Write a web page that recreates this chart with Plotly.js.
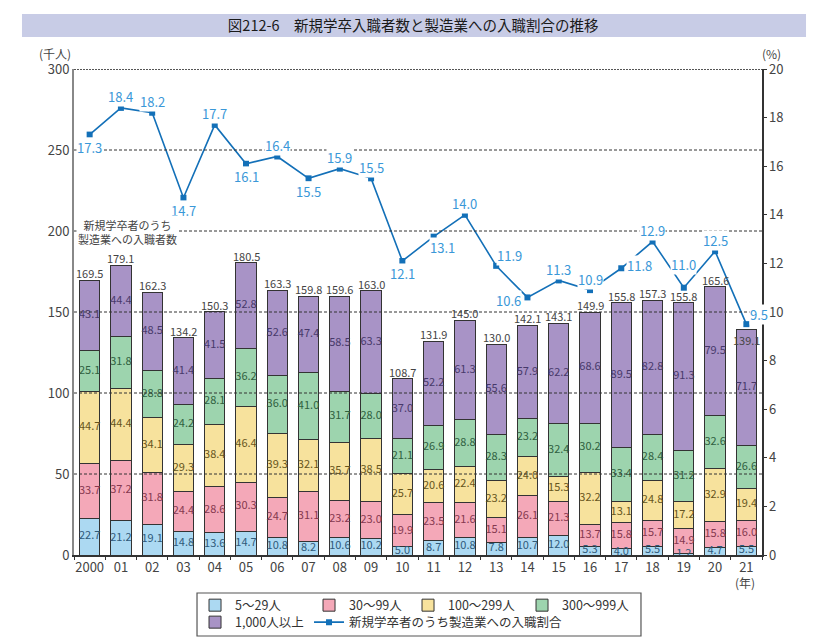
<!DOCTYPE html>
<html>
<head>
<meta charset="utf-8">
<script src="https://cdn.plot.ly/plotly-3.0.1.min.js"></script>
<style>html,body{margin:0;padding:0;background:#fff;}#chart{width:815px;height:642px;}</style>
</head>
<body>
<div id="chart"></div>
<script>
// ---- data ----
const years = ['2000','01','02','03','04','05','06','07','08','09','10','11','12','13','14','15','16','17','18','19','20','21'];
const s5_29   = [22.7,21.2,19.1,14.8,13.6,14.7,10.8,8.2,10.6,10.2,5.0,8.7,10.8,7.8,10.7,12.0,5.3,4.0,5.5,1.2,4.7,5.5];
const s30_99  = [33.7,37.2,31.8,24.4,28.6,30.3,24.7,31.1,23.2,23.0,19.9,23.5,21.6,15.1,26.1,21.3,13.7,15.8,15.7,14.9,15.8,16.0];
const s100_299= [44.7,44.4,34.1,29.3,38.4,46.4,39.3,32.1,35.7,38.5,25.7,20.6,22.4,23.2,24.0,15.3,32.2,13.1,24.8,17.2,32.9,19.4];
const s300_999= [25.1,31.8,28.8,24.2,28.1,36.2,36.0,41.0,31.7,28.0,21.1,26.9,28.8,28.3,23.2,32.4,30.2,33.4,28.4,31.2,32.6,26.6];
const s1000   = [43.1,44.4,48.5,41.4,41.5,52.8,52.6,47.4,58.5,63.3,37.0,52.2,61.3,55.6,57.9,62.2,68.6,89.5,82.8,91.3,79.5,71.7];
const totals  = [169.5,179.1,162.3,134.2,150.3,180.5,163.3,159.8,159.6,163.0,108.7,131.9,145.0,130.0,142.1,143.1,149.9,155.8,157.3,155.8,165.6,139.1];
const ratio   = [17.3,18.4,18.2,14.7,17.7,16.1,16.4,15.5,15.9,15.5,12.1,13.1,14.0,11.9,10.6,11.3,10.9,11.8,12.9,11.0,12.5,9.5];
const seriesNames = ['5～29人','30～99人','100～299人','300～999人','1,000人以上'];
const lineName = '新規学卒者のうち製造業への入職割合';
const leftTicks = [50,100,150,200,250];
const topTick = 300;

// ---- styles ----
const FONT = '"Noto Sans CJK JP", "Noto Sans", sans-serif';
const fills = ['#acd9f2','#f4a8b8','#f7e29d','#9dd4ae','#a893c6'];
const textCols = ['#2f5a7a','#84384f','#665520','#2f6040','#47396a'];
const legendWidths = [69,54,69,null,69];
const legendIds = ['legend','legend','legend','legend','legend2'];
const totalShift = years.map((_, i) => i === years.length - 1 ? -10 : 7);
const ratioLabelPos = ['b','t','t','b','t','b','t','b','t','t','b','br','t','tr','l','t','t','r','t','tt','t','tr'];
const posOffsets = {t:[0,11], tt:[0,23], b:[0,-13], br:[9,-11], tr:[13,10], l:[-19,-3], r:[18,3]};

const series = [s5_29, s30_99, s100_299, s300_999, s1000];
const traces = [];
series.forEach((vals, k) => {
  const tr = {
    type: 'bar', x: years, y: vals, name: seriesNames[k],
    marker: {color: fills[k], line: {color: '#333', width: 1}},
    legend: legendIds[k], hoverinfo: 'x+y+name'
  };
  if (legendWidths[k]) tr.legendwidth = legendWidths[k];
  traces.push(tr);
});

// segment labels (centered in each stacked segment)
const cum = years.map(() => 0);
series.forEach((vals, k) => {
  const mids = vals.map((v, i) => { const m = cum[i] + v / 2; cum[i] += v; return m; });
  traces.push({
    type: 'scatter', mode: 'text', x: years, y: mids,
    text: vals.map(v => v.toFixed(1)), textposition: 'middle center',
    textfont: {family: FONT, size: 11, color: textCols[k]},
    showlegend: false, hoverinfo: 'skip', cliponaxis: false
  });
});

// ratio line
traces.push({
  type: 'scatter', mode: 'lines+markers', x: years, y: ratio, yaxis: 'y2',
  name: lineName, legend: 'legend2',
  line: {color: '#1370b8', width: 1.6},
  marker: {symbol: 'square', size: 6, color: '#1370b8'},
  cliponaxis: false
});

// totals above each bar (category index on the category axis)
const annotations = totals.map((v, i) => ({
  xref: 'x', yref: 'y', x: i, y: v, text: v.toFixed(1),
  xanchor: 'center', yanchor: 'middle', showarrow: false, yshift: totalShift[i],
  font: {family: FONT, size: 11, color: '#444'}
}));
// ratio labels
ratio.forEach((v, i) => {
  const o = posOffsets[ratioLabelPos[i]];
  annotations.push({
    xref: 'x', yref: 'y2', x: i, y: v, text: v.toFixed(1),
    xanchor: 'center', yanchor: 'middle',
    showarrow: false, xshift: o[0], yshift: o[1],
    font: {family: FONT, size: 13, color: '#3a98d8'},
    bgcolor: 'white', borderpad: 0
  });
});
const note = (x, y, text, size, extra) => Object.assign({xref:'paper', yref:'paper', x:x, y:y, text:text,
  showarrow:false, xanchor:'center', yanchor:'middle', font:{family:FONT, size:size, color:'#444'}}, extra || {});
annotations.push(
  note(0.0778, 0.6656, '新規学卒者のうち<br>製造業への入職者数', 11, {bgcolor:'white', align:'center', borderpad:1}),
  note(-0.0276, 1.0309, '(千人)', 12),
  note(1.0145, 1.0309, '(%)', 12),
  note(0.9753, -0.0556, '(年)', 12)
);

const shapes = [
  {type:'rect', xref:'paper', yref:'paper', x0:-0.0756, x1:1.064, y0:1.0658, y1:1.1132,
   fillcolor:'#c8cce6', line:{width:0}, layer:'below'},
  {type:'rect', xref:'paper', yref:'paper', x0:0.1788, x1:0.8241, y0:-0.1667, y1:-0.0782,
   fillcolor:'rgba(0,0,0,0)', line:{color:'#555', width:1.2}, layer:'above'}
];
leftTicks.forEach(v => shapes.push({type:'line', xref:'paper', yref:'y', x0:0, x1:1, y0:v, y1:v,
  line:{color:'#333', width:1, dash:'3px,2px'}, layer:'above'}));
shapes.push({type:'line', xref:'paper', yref:'y', x0:0, x1:1, y0:topTick, y1:topTick,
  line:{color:'#555', width:2, dash:'2px,1px'}, layer:'above'});

const layout = {
  width: 815, height: 642,
  margin: {l: 74, r: 53, t: 69, b: 87, autoexpand: false},
  paper_bgcolor: '#fff', plot_bgcolor: '#fff',
  font: {family: FONT, color: '#444'},
  title: {text: '図212-6　新規学卒入職者数と製造業への入職割合の推移',
    font: {family: FONT, size: 14.5, color: '#1a1a1a'},
    xref: 'container', yref: 'container', x: 0.507, y: 0.960, xanchor: 'center', yanchor: 'middle'},
  barmode: 'stack', bargap: 0.35,
  showlegend: true,
  xaxis: {type: 'category', range: [-0.5, years.length - 0.5], autorange: false,
    showline: true, linecolor: '#333', linewidth: 1.5,
    ticks: 'outside', tickson: 'boundaries', ticklen: 3, tickcolor: '#333', tickangle: 0,
    tickfont: {family: FONT, size: 13, color: '#444'}, showgrid: false, zeroline: false},
  yaxis: {range: [0, 300], autorange: false, dtick: 50, showline: true, linecolor: '#888', linewidth: 2,
    ticks: '', showgrid: false, zeroline: false, tickfont: {family: FONT, size: 13, color: '#444'}},
  yaxis2: {range: [0, 20], autorange: false, dtick: 2, overlaying: 'y', side: 'right', showline: true,
    linecolor: '#333', linewidth: 1.5, ticks: 'outside', ticklen: 3, tickcolor: '#333',
    showgrid: false, zeroline: false, tickfont: {family: FONT, size: 13, color: '#444'}},
  legend: {orientation: 'h', x: 0.1759, xanchor: 'left', y: -0.104, yanchor: 'middle',
    traceorder: 'normal', font: {family: FONT, size: 12.5, color: '#333'}, bgcolor: 'rgba(0,0,0,0)', borderwidth: 0},
  legend2: {orientation: 'h', x: 0.1759, xanchor: 'left', y: -0.1389, yanchor: 'middle',
    traceorder: 'normal', font: {family: FONT, size: 12.5, color: '#333'}, bgcolor: 'rgba(0,0,0,0)', borderwidth: 0},
  annotations: annotations,
  shapes: shapes
};

Plotly.newPlot('chart', traces, layout, {displayModeBar: false, staticPlot: true});
</script>
</body>
</html>
